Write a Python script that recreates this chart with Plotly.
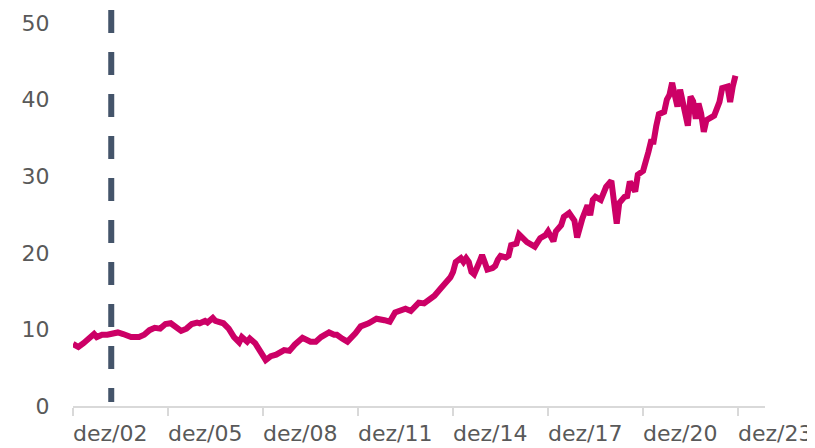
import plotly.graph_objects as go

dates = [
    "2002-12-01", "2003-02-01", "2003-04-01", "2003-06-01", "2003-08-01", "2003-09-01", "2003-11-01",
    "2004-01-01", "2004-03-01", "2004-05-01", "2004-07-01", "2004-10-01",
    "2005-01-01", "2005-03-01", "2005-05-01", "2005-07-01", "2005-09-01", "2005-11-01",
    "2006-01-01", "2006-03-01", "2006-05-01", "2006-07-01", "2006-09-01", "2006-11-01", "2006-12-01",
    "2007-02-01", "2007-03-01", "2007-05-01", "2007-06-01", "2007-09-01", "2007-11-01",
    "2008-01-01", "2008-03-01", "2008-04-01", "2008-06-01", "2008-07-01", "2008-09-01", "2008-11-01",
    "2009-01-01", "2009-03-01", "2009-05-01", "2009-08-01", "2009-10-01", "2009-12-01",
    "2010-02-01", "2010-03-01", "2010-06-01", "2010-08-01", "2010-10-01",
    "2011-01-01", "2011-03-01", "2011-04-01", "2011-06-01", "2011-08-01", "2011-11-01",
    "2012-01-01", "2012-04-01", "2012-07-01", "2012-10-01", "2012-12-01",
    "2013-02-01", "2013-05-01", "2013-06-01", "2013-08-01", "2013-10-01", "2013-11-01",
    "2014-01-01", "2014-03-01", "2014-05-01", "2014-07-01", "2014-09-01", "2014-11-01", "2014-12-01",
    "2015-01-01", "2015-03-01", "2015-04-01", "2015-05-01", "2015-06-01", "2015-07-01", "2015-08-01",
    "2015-10-01", "2015-11-01", "2015-12-01",
    "2016-01-01", "2016-03-01", "2016-04-01", "2016-05-01", "2016-06-01", "2016-08-01", "2016-09-01",
    "2016-10-01", "2016-12-01",
    "2017-01-01", "2017-02-01", "2017-04-01", "2017-07-01", "2017-09-01", "2017-11-01", "2017-12-01",
    "2018-02-01", "2018-03-01", "2018-05-01", "2018-06-01", "2018-08-01", "2018-09-01", "2018-10-01",
    "2018-11-01", "2018-12-01",
    "2019-01-01", "2019-03-01", "2019-04-01", "2019-05-01", "2019-06-01", "2019-08-01", "2019-09-01",
    "2019-10-01", "2019-12-01",
    "2020-01-01", "2020-02-01", "2020-03-01", "2020-05-01", "2020-06-01", "2020-07-01", "2020-09-01",
    "2020-10-01", "2020-12-01",
    "2021-01-01", "2021-02-01", "2021-03-01", "2021-04-01", "2021-05-01", "2021-06-01", "2021-08-01",
    "2021-09-01", "2021-10-01", "2021-11-01", "2021-12-01",
    "2022-01-01", "2022-02-01", "2022-03-01", "2022-05-01", "2022-06-01", "2022-07-01", "2022-08-01",
    "2022-09-01", "2022-10-01", "2022-11-01", "2022-12-01",
    "2023-02-01", "2023-03-01", "2023-05-01", "2023-06-01", "2023-08-01", "2023-09-01", "2023-10-01",
    "2023-11-01",
]

values = [
    8.1, 7.7, 8.2, 8.7, 9.4, 9.0, 9.3,
    9.3, 9.5, 9.6, 9.4, 9.0,
    9.0, 9.3, 9.9, 10.2, 10.1, 10.7,
    10.8, 10.4, 9.8, 10.1, 10.7, 10.9, 10.8,
    11.1, 10.9, 11.5, 11.1, 10.8, 10.1,
    9.0, 8.3, 9.0, 8.4, 8.8, 8.2, 7.1,
    6.0, 6.5, 6.7, 7.3, 7.2, 8.0,
    8.6, 8.9, 8.4, 8.4, 9.0,
    9.6, 9.3, 9.3, 8.8, 8.4, 9.5,
    10.4, 10.8, 11.4, 11.2, 11.0,
    12.2, 12.6, 12.7, 12.4, 13.2, 13.5,
    13.4, 13.8, 14.4, 15.2, 16.0, 16.8, 17.5,
    18.8, 19.3, 18.8, 19.3, 18.8, 17.5, 17.2,
    18.8, 19.7, 18.8,
    17.8, 18.0, 18.3, 19.1, 19.6, 19.4, 19.6,
    21.0, 21.2,
    22.4, 22.1, 21.4, 20.8, 21.9, 22.3, 22.8,
    21.5, 22.8, 23.6, 24.7, 25.2, 24.5, 24.2,
    22.0, 23.6,
    24.5, 26.2, 24.9, 26.9, 27.3, 26.9, 27.8,
    28.6, 29.4,
    26.9, 23.8, 26.5, 27.3, 27.4, 29.3, 28.0,
    30.2, 30.7,
    31.7, 33.2, 34.5, 34.5, 36.5, 38.1, 38.4,
    40.0, 40.6, 42.2, 40.6,
    39.1, 41.3, 39.5, 36.6, 40.4, 39.8, 37.5,
    39.5, 38.2, 35.8, 37.3,
    37.8, 37.9, 39.7, 41.5, 41.7, 39.7, 41.7,
    43.1,
]

tick_dates = ["2002-12-01", "2005-12-01", "2008-12-01", "2011-12-01",
              "2014-12-01", "2017-12-01", "2020-12-01", "2023-12-01"]
tick_labels = ["dez/02", "dez/05", "dez/08", "dez/11", "dez/14", "dez/17", "dez/20", "dez/23"]
y_ticks = [0, 10, 20, 30, 40, 50]
marker_date = "2004-02-15"

FONT = "DejaVu Sans"
GREY = "#595959"

fig = go.Figure()
fig.add_trace(go.Scatter(
    x=dates, y=values, mode="lines",
    line=dict(color="#CC0066", width=6),
    showlegend=False, hoverinfo="skip",
))

fig.add_shape(
    type="line", xref="x", yref="paper",
    x0=marker_date, x1=marker_date, y0=1.034, y1=0.0104,
    line=dict(color="#44546A", width=6, dash="23px,19px"),
    layer="above",
)

for d, t in zip(tick_dates, tick_labels):
    fig.add_annotation(
        x=d, xref="x", y=-0.106, yref="paper", text=t, showarrow=False,
        xanchor="left", yanchor="bottom", xshift=-1, borderpad=0,
        font=dict(family=FONT, size=22, color=GREY),
    )

fig.update_layout(
    width=807, height=440,
    margin=dict(l=65, r=50, t=15, b=42, autoexpand=False),
    plot_bgcolor="white", paper_bgcolor="white",
    font=dict(family=FONT, size=22, color=GREY),
    xaxis=dict(
        type="date", range=["2002-12-01", "2024-10-07"],
        tickvals=tick_dates, ticktext=[""] * len(tick_dates),
        showgrid=False, zeroline=False, automargin=False,
        showline=True, linecolor="#D9D9D9", linewidth=2,
        ticks="outside", ticklen=8, tickcolor="#D9D9D9", tickwidth=2,
    ),
    yaxis=dict(
        range=[0, 50], tickvals=y_ticks, automargin=False,
        showgrid=False, zeroline=False, showline=False,
        ticks="outside", ticklen=18, tickcolor="rgba(0,0,0,0)",
        tickfont=dict(family=FONT, size=22, color=GREY),
    ),
)

fig.write_html("out.html")
